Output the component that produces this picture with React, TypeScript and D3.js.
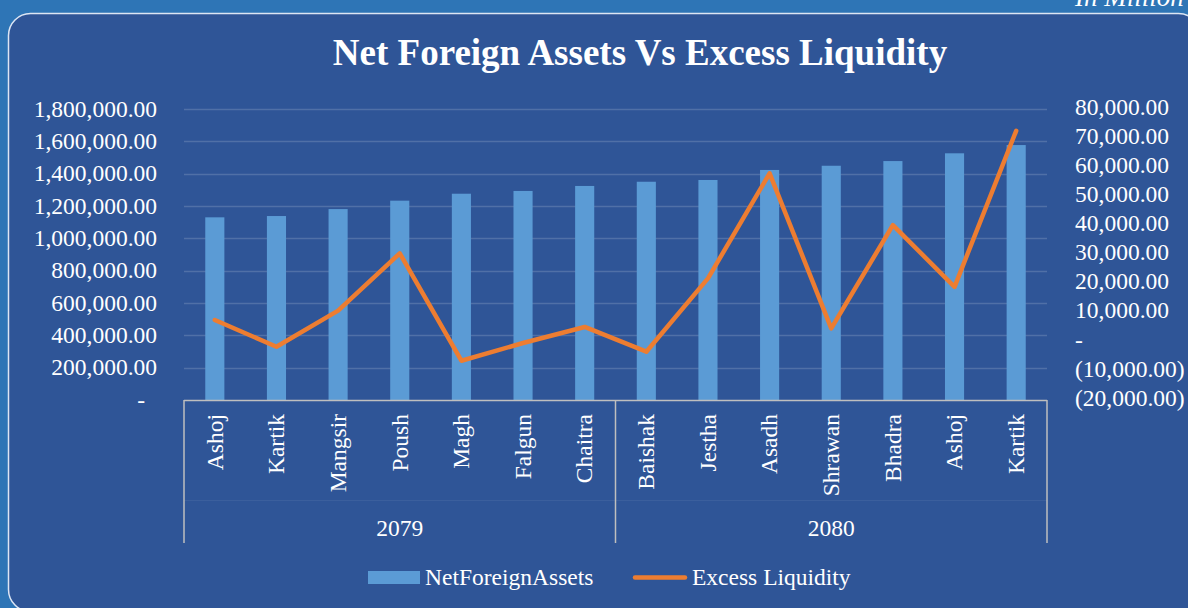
import React, { useEffect, useRef } from 'react';
import * as d3 from 'd3';

const months = [
  'Ashoj', 'Kartik', 'Mangsir', 'Poush', 'Magh', 'Falgun', 'Chaitra',
  'Baishak', 'Jestha', 'Asadh', 'Shrawan', 'Bhadra', 'Ashoj', 'Kartik'
];
const years = ['2079', '2080'];
const monthsPerYear = [7, 7];

const netForeignAssets = [
  1130000, 1138000, 1181000, 1233000, 1276000, 1293000, 1324000,
  1350000, 1361000, 1423000, 1449000, 1478000, 1526000, 1577000
];
const excessLiquidity = [
  7500, -1700, 10700, 30400, -6500, -400, 5100,
  -3400, 21800, 57900, 4600, 40100, 18900, 72500
];

const leftTicks = [0, 200000, 400000, 600000, 800000, 1000000, 1200000, 1400000, 1600000, 1800000];
const rightTicks = [-20000, -10000, 0, 10000, 20000, 30000, 40000, 50000, 60000, 70000, 80000];

const FONT = "'Times New Roman', 'Liberation Serif', serif";

function accounting(v: number) {
  if (v === 0) return '-';
  const s = d3.format(',.2f')(Math.abs(v));
  return v < 0 ? `(${s})` : s;
}

const App = () => {
  const ref = useRef<SVGSVGElement | null>(null);

  useEffect(() => {
    const svg = d3.select(ref.current);
    svg.selectAll('*').remove();

    const W = 1188;
    const H = 608;
    const plot = { left: 184, right: 1047, top: 109, bottom: 400 };

    // background + rounded panel
    svg.append('rect').attr('width', W).attr('height', H).attr('fill', '#2E75B6');
    svg
      .append('rect')
      .attr('x', 8.5)
      .attr('y', 13.5)
      .attr('width', 1192)
      .attr('height', 598)
      .attr('rx', 22)
      .attr('fill', '#2F5597')
      .attr('stroke', '#DDE6F4')
      .attr('stroke-width', 1.5);

    // unit note, clipped by the top edge like the original
    svg
      .append('text')
      .attr('x', 1075)
      .attr('y', 6)
      .attr('font-family', FONT)
      .attr('font-style', 'italic')
      .attr('font-size', 27)
      .attr('fill', '#fff')
      .text('In Million');

    svg
      .append('text')
      .attr('x', 640)
      .attr('y', 65)
      .attr('text-anchor', 'middle')
      .attr('font-family', FONT)
      .attr('font-weight', 'bold')
      .attr('font-size', 37)
      .attr('fill', '#fff')
      .text('Net Foreign Assets Vs Excess Liquidity');

    const x = d3
      .scaleBand<number>()
      .domain(months.map((_, i) => i))
      .range([plot.left, plot.right])
      .padding(0);

    const yL = d3.scaleLinear().domain([0, 1800000]).range([plot.bottom, plot.top]);
    const yR = d3.scaleLinear().domain([-20000, 80000]).range([plot.bottom, plot.top]);

    // gridlines
    svg
      .append('g')
      .selectAll('line')
      .data(leftTicks.filter((t) => t > 0))
      .join('line')
      .attr('x1', plot.left)
      .attr('x2', plot.right)
      .attr('y1', (d) => Math.round(yL(d)) + 0.5)
      .attr('y2', (d) => Math.round(yL(d)) + 0.5)
      .attr('stroke', 'rgba(255,255,255,0.16)')
      .attr('stroke-width', 1.3);

    // left axis labels
    svg
      .append('g')
      .selectAll('text')
      .data(leftTicks)
      .join('text')
      .attr('x', (d) => (d === 0 ? 145 : 157))
      .attr('y', (d) => yL(d))
      .attr('dy', '0.33em')
      .attr('text-anchor', 'end')
      .attr('font-family', FONT)
      .attr('font-size', 23.5)
      .attr('fill', '#fff')
      .text((d) => accounting(d));

    // right axis labels
    svg
      .append('g')
      .selectAll('text')
      .data(rightTicks)
      .join('text')
      .attr('x', 1075)
      .attr('y', (d) => yR(d) - 2)
      .attr('dy', '0.33em')
      .attr('font-family', FONT)
      .attr('font-size', 23.5)
      .attr('fill', '#fff')
      .text((d) => accounting(d));

    // bars
    const barW = x.bandwidth() * 0.31;
    svg
      .append('g')
      .selectAll('rect')
      .data(netForeignAssets)
      .join('rect')
      .attr('x', (_, i) => x(i)! + (x.bandwidth() - barW) / 2)
      .attr('y', (d) => yL(d))
      .attr('width', barW)
      .attr('height', (d) => plot.bottom - yL(d))
      .attr('fill', '#5B9BD5');

    // line
    const line = d3
      .line<number>()
      .x((_, i) => x(i)! + x.bandwidth() / 2)
      .y((d) => yR(d));

    svg
      .append('path')
      .datum(excessLiquidity)
      .attr('d', line)
      .attr('fill', 'none')
      .attr('stroke', '#ED7D31')
      .attr('stroke-width', 4.5)
      .attr('stroke-linejoin', 'round')
      .attr('stroke-linecap', 'round');

    // category axis
    const axisColor = '#BFBFBF';
    svg
      .append('line')
      .attr('x1', plot.left)
      .attr('x2', plot.right)
      .attr('y1', plot.bottom + 0.5)
      .attr('y2', plot.bottom + 0.5)
      .attr('stroke', axisColor)
      .attr('stroke-width', 1.5);

    svg
      .append('line')
      .attr('x1', plot.left)
      .attr('x2', plot.right)
      .attr('y1', 500.5)
      .attr('y2', 500.5)
      .attr('stroke', 'rgba(255,255,255,0.06)')
      .attr('stroke-width', 1);

    let start = 0;
    const bounds = [0];
    monthsPerYear.forEach((n) => {
      start += n;
      bounds.push(start);
    });

    svg
      .append('g')
      .selectAll('line')
      .data(bounds)
      .join('line')
      .attr('x1', (d) => (d < months.length ? x(d)! : plot.right))
      .attr('x2', (d) => (d < months.length ? x(d)! : plot.right))
      .attr('y1', plot.bottom)
      .attr('y2', 543)
      .attr('stroke', axisColor)
      .attr('stroke-width', 1.5);

    svg
      .append('g')
      .selectAll('text')
      .data(months)
      .join('text')
      .attr('transform', (_, i) => `translate(${x(i)! + x.bandwidth() / 2},414) rotate(-90)`)
      .attr('dy', '0.33em')
      .attr('text-anchor', 'end')
      .attr('font-family', FONT)
      .attr('font-size', 23.5)
      .attr('fill', '#fff')
      .text((d) => d);

    svg
      .append('g')
      .selectAll('text')
      .data(years)
      .join('text')
      .attr('x', (_, i) => {
        const a = x(bounds[i])!;
        const b = bounds[i + 1] < months.length ? x(bounds[i + 1])! : plot.right;
        return (a + b) / 2;
      })
      .attr('y', 536)
      .attr('text-anchor', 'middle')
      .attr('font-family', FONT)
      .attr('font-size', 23.5)
      .attr('fill', '#fff')
      .text((d) => d);

    // legend
    const legend = svg.append('g');
    legend
      .append('rect')
      .attr('x', 368)
      .attr('y', 571)
      .attr('width', 52)
      .attr('height', 13)
      .attr('fill', '#5B9BD5');
    legend
      .append('text')
      .attr('x', 425)
      .attr('y', 585)
      .attr('font-family', FONT)
      .attr('font-size', 23.5)
      .attr('fill', '#fff')
      .text('NetForeignAssets');
    legend
      .append('line')
      .attr('x1', 635)
      .attr('x2', 685)
      .attr('y1', 577.5)
      .attr('y2', 577.5)
      .attr('stroke', '#ED7D31')
      .attr('stroke-width', 4.5)
      .attr('stroke-linecap', 'round');
    legend
      .append('text')
      .attr('x', 692)
      .attr('y', 585)
      .attr('font-family', FONT)
      .attr('font-size', 23.5)
      .attr('fill', '#fff')
      .text('Excess Liquidity');
  }, []);

  return (
    <svg
      ref={ref}
      width={1188}
      height={608}
      style={{ position: 'fixed', left: 0, top: 0, display: 'block' }}
    />
  );
};

export default App;
